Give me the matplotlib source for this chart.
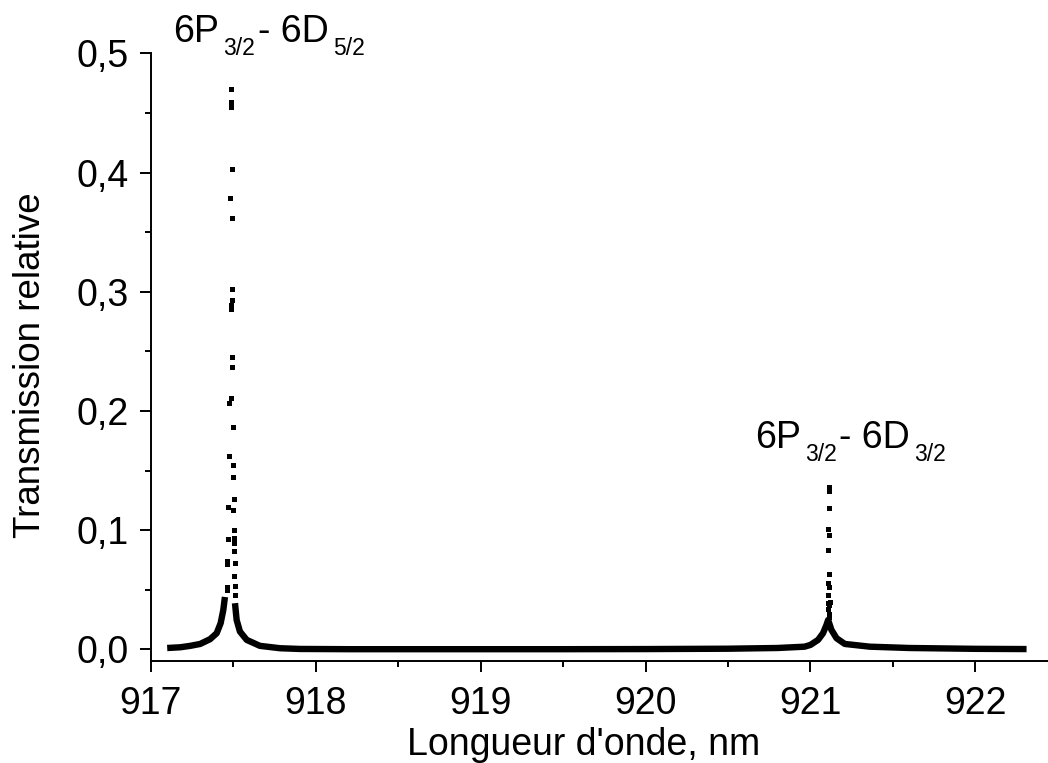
import matplotlib
matplotlib.use("Agg")
import matplotlib.pyplot as plt
import numpy as np

plt.rcParams['font.family'] = ['Liberation Sans', 'DejaVu Sans']

# isolated points of the 6P3/2 - 6D5/2 peak
peak1_x = [917.487, 917.487, 917.487, 917.491, 917.481, 917.491, 917.491, 917.491,
           917.487, 917.487, 917.493, 917.493, 917.487, 917.475, 917.499, 917.475,
           917.499, 917.499, 917.503, 917.470, 917.499, 917.503, 917.468, 917.505,
           917.505, 917.505, 917.465, 917.465, 917.509, 917.508, 917.461, 917.460,
           917.509, 917.509]
peak1_y = [0.470, 0.459, 0.455, 0.403, 0.379, 0.362, 0.3025, 0.293,
           0.289, 0.286, 0.245, 0.237, 0.2106, 0.2064, 0.1867, 0.162,
           0.1546, 0.1443, 0.1258, 0.1196, 0.1169, 0.0998, 0.093, 0.0936,
           0.0894, 0.0825, 0.0743, 0.072, 0.0727, 0.0612, 0.0525, 0.0497,
           0.0534, 0.0456]

# isolated points of the 6P3/2 - 6D3/2 peak
peak2_x = [921.110, 921.110, 921.112, 921.109, 921.112, 921.109, 921.113, 921.108,
           921.112, 921.108, 921.116, 921.104, 921.110, 921.106, 921.112, 921.110,
           921.108, 921.112, 921.106]
peak2_y = [0.1359, 0.133, 0.119, 0.1007, 0.0959, 0.0833, 0.0632, 0.0554,
           0.0525, 0.0456, 0.0394, 0.039, 0.0372, 0.0338, 0.030, 0.0274,
           0.0246, 0.0218, 0.0204]

# dense part of the scan (points merge into a thick trace)
wing1_x = [917.10, 917.179, 917.24, 917.30, 917.36, 917.40, 917.424, 917.44, 917.45]
wing1_y = [0.0012, 0.0018, 0.003, 0.0046, 0.0086, 0.0136, 0.022, 0.033, 0.044]

trace_x = [917.511, 917.521, 917.541, 917.582, 917.662, 917.784, 917.905, 918.2,
           918.6, 919.0, 919.5, 920.0, 920.5, 920.8, 920.964, 921.0,
           921.046, 921.076, 921.097, 921.107, 921.117, 921.127, 921.158, 921.208,
           921.36, 921.6, 922.0, 922.31]
trace_y = [0.0388, 0.0247, 0.015, 0.008, 0.003, 0.001, 0.0004, 0.0002,
           0.0002, 0.0002, 0.0002, 0.0003, 0.0006, 0.0012, 0.0023, 0.0038,
           0.008, 0.0136, 0.0206, 0.0247, 0.0206, 0.0164, 0.0094, 0.0046,
           0.0023, 0.0012, 0.0005, 0.0003]

xticks = [917, 918, 919, 920, 921, 922]
yticks = [0.0, 0.1, 0.2, 0.3, 0.4, 0.5]
ytick_labels = ['0,0', '0,1', '0,2', '0,3', '0,4', '0,5']

fig = plt.figure(figsize=(10.48, 7.63), dpi=100)
ax = fig.add_axes([0.1438, 0.1337, 0.8562, 0.7962])

ax.plot(wing1_x, wing1_y, color='black', lw=4.6, solid_capstyle='butt')
ax.plot(trace_x, trace_y, color='black', lw=4.6, solid_capstyle='butt')
ax.plot(peak1_x, peak1_y, 's', color='black', ms=3.6, mew=0)
ax.plot(peak2_x, peak2_y, 's', color='black', ms=3.6, mew=0)

ax.set_xlim(917.0, 922.44)
ax.set_ylim(-0.0097, 0.5)

ax.spines['top'].set_visible(False)
ax.spines['right'].set_visible(False)
for s in ('left', 'bottom'):
    ax.spines[s].set_linewidth(1.4)

ax.set_xticks(xticks)
ax.set_xticklabels([str(t) for t in xticks])
ax.set_xticks(np.arange(917.5, 922.5, 1.0), minor=True)
ax.set_yticks(yticks)
ax.set_yticklabels(ytick_labels)
ax.set_yticks(np.arange(0.05, 0.5, 0.1), minor=True)

ax.tick_params(which='major', direction='out', length=8, width=1.4, labelsize=27)
ax.tick_params(axis='x', which='major', pad=10)
ax.tick_params(axis='y', which='major', pad=8)
ax.tick_params(which='minor', direction='out', length=4.5, width=1.4)

ax.set_xlabel("Longueur d'onde, nm", fontsize=27)
ax.xaxis.set_label_coords(0.482, -0.1086)
ax.set_ylabel("Transmission relative", fontsize=26.5)
ax.yaxis.set_label_coords(-0.115, 0.487)


def transition(x, y, lower, upper):
    # "6P_lower- 6D_upper" with low-set subscripts
    t1 = ax.text(x, y, '6P', fontsize=27, va='bottom', ha='left', clip_on=False)
    s1 = ax.annotate(lower, xy=(1, 0), xycoords=t1, xytext=(3, -7.3),
                     textcoords='offset points', fontsize=16.5, va='bottom', ha='left')
    t2 = ax.annotate('- 6D', xy=(1, 0), xycoords=(s1, t1), xytext=(2, 0),
                     textcoords='offset points', fontsize=27, va='bottom', ha='left')
    ax.annotate(upper, xy=(1, 0), xycoords=t2, xytext=(3, -7.3),
                textcoords='offset points', fontsize=16.5, va='bottom', ha='left')


transition(917.137, 0.503, '3/2', '5/2')
transition(920.662, 0.1621, '3/2', '3/2')

fig.savefig('out.png', dpi=100)
